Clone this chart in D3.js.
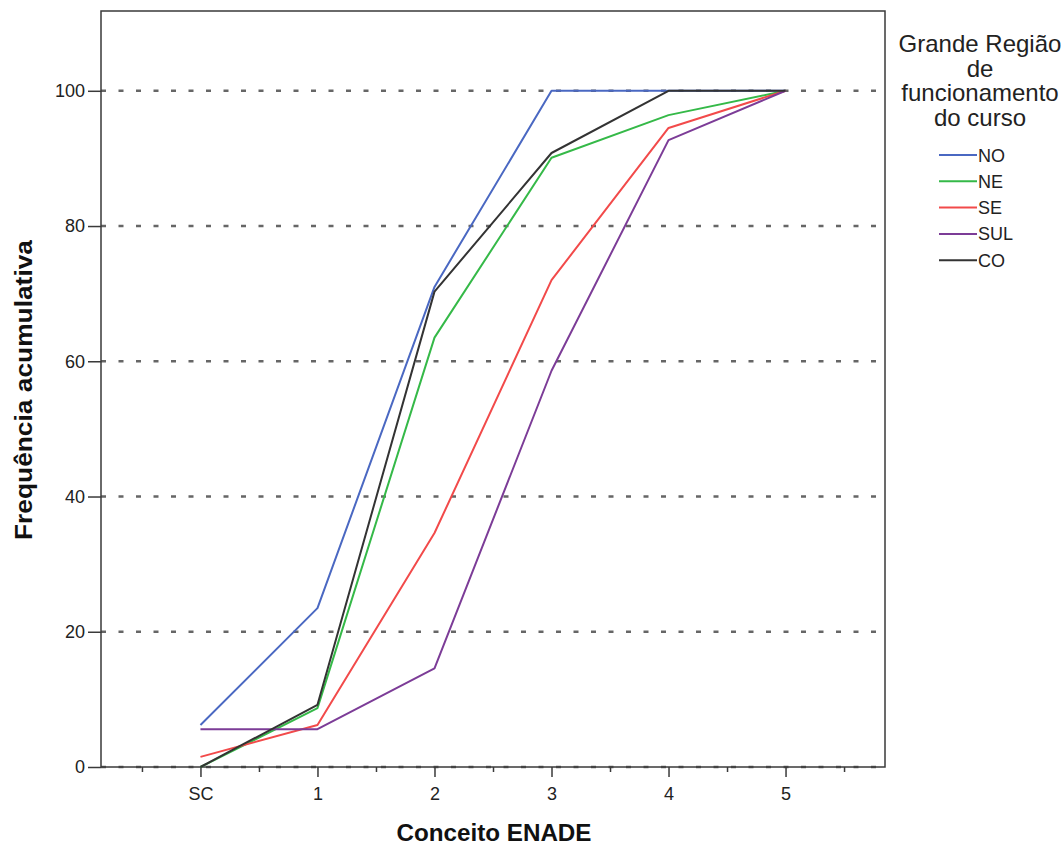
<!DOCTYPE html>
<html>
<head>
<meta charset="utf-8">
<script src="https://cdn.jsdelivr.net/npm/d3@7"></script>
<style>
body{margin:0;background:#fff;}
text{font-family:"Liberation Sans",Arial,sans-serif;}
</style>
</head>
<body>
<svg id="chart" width="1064" height="847"></svg>
<script>
const categories = ["SC","1","2","3","4","5"];
const seriesNames = ["NO","NE","SE","SUL","CO"];
const NO  = [6.2, 23.5, 71.0, 100, 100, 100];
const NE  = [0, 8.7, 63.5, 90.1, 96.4, 100];
const SE  = [1.5, 6.2, 34.6, 72.0, 94.5, 100];
const SUL = [5.6, 5.6, 14.6, 58.6, 92.7, 100];
const CO  = [0, 9.2, 70.3, 90.8, 100, 100];
const seriesValues = [NO, NE, SE, SUL, CO];
const colors = ["#4a68c2", "#35b948", "#f24a4a", "#7c3c97", "#333333"];
const yTicks = [0, 20, 40, 60, 80, 100];
const legendTitle = ["Grande Região", "de", "funcionamento", "do curso"];

const svg = d3.select("#chart");
const L = 101, R = 885, T = 11, B = 767;

const x = d3.scaleLinear().domain([-0.85, 5.85]).range([L, R]);
const y = d3.scaleLinear().domain([0, 111.8]).range([B, T]);

// gridlines
svg.append("g").selectAll("line").data(yTicks).join("line")
  .attr("x1", L).attr("x2", R)
  .attr("y1", d => y(d)).attr("y2", d => y(d))
  .attr("stroke", "#666").attr("stroke-width", 2.5)
  .attr("stroke-dasharray", "5,12.5");

// frame
svg.append("rect").attr("x", L).attr("y", T).attr("width", R - L).attr("height", B - T)
  .attr("fill", "none").attr("stroke", "#3a3a3a").attr("stroke-width", 1.5);

// y axis
const yAxis = d3.axisLeft(y).tickValues(yTicks).tickSize(13).tickPadding(3).tickFormat(d3.format("d"));
const gy = svg.append("g").attr("transform", `translate(${L},0)`).call(yAxis);
gy.select(".domain").remove();
gy.selectAll("line").attr("stroke", "#3a3a3a").attr("stroke-width", 1.5);
gy.selectAll("text").attr("font-size", 18).attr("fill", "#222").attr("font-family", "Liberation Sans, Arial, sans-serif");

// x axis major
const xAxis = d3.axisBottom(x).tickValues(d3.range(categories.length)).tickSize(10).tickPadding(10)
  .tickFormat(i => categories[i]);
const gx = svg.append("g").attr("transform", `translate(0,${B})`).call(xAxis);
gx.select(".domain").remove();
gx.selectAll("line").attr("stroke", "#3a3a3a").attr("stroke-width", 1.5);
gx.selectAll("text").attr("font-size", 18).attr("fill", "#222").attr("font-family", "Liberation Sans, Arial, sans-serif");

// x axis minor
const minor = d3.axisBottom(x).tickValues(d3.range(categories.length + 1).map(i => i - 0.5)).tickSize(5).tickFormat("");
const gm = svg.append("g").attr("transform", `translate(0,${B})`).call(minor);
gm.select(".domain").remove();
gm.selectAll("line").attr("stroke", "#3a3a3a").attr("stroke-width", 1.5);

// lines
const line = d3.line().x((d, i) => x(i)).y(d => y(d));
svg.append("g").selectAll("path").data(seriesValues).join("path")
  .attr("d", line).attr("fill", "none")
  .attr("stroke", (d, i) => colors[i]).attr("stroke-width", 2)
  .attr("stroke-linejoin", "round");

// axis titles
svg.append("text").attr("x", 494).attr("y", 841).attr("text-anchor", "middle")
  .attr("font-size", 23).attr("font-weight", "bold").attr("fill", "#111")
  .attr("textLength", 195).attr("lengthAdjust", "spacingAndGlyphs").text("Conceito ENADE");
svg.append("text").attr("transform", "translate(32,390) rotate(-90)").attr("text-anchor", "middle")
  .attr("font-size", 24).attr("font-weight", "bold").attr("fill", "#111")
  .attr("textLength", 300).attr("lengthAdjust", "spacingAndGlyphs").text("Frequência acumulativa");

// legend
const lg = svg.append("g");
lg.selectAll("text.t").data(legendTitle).join("text").attr("class", "t")
  .attr("x", 980).attr("y", (d, i) => 52 + i * 24.7).attr("text-anchor", "middle")
  .attr("font-size", 24).attr("fill", "#222").text(d => d);
const items = lg.selectAll("g.item").data(seriesNames).join("g").attr("class", "item")
  .attr("transform", (d, i) => `translate(0,${155 + i * 26.3})`);
items.append("line").attr("x1", 939).attr("x2", 977).attr("y1", 0).attr("y2", 0)
  .attr("stroke", (d, i) => colors[i]).attr("stroke-width", 2);
items.append("text").attr("x", 978).attr("y", 6.5).attr("font-size", 18).attr("fill", "#222").text(d => d);
</script>
</body>
</html>
